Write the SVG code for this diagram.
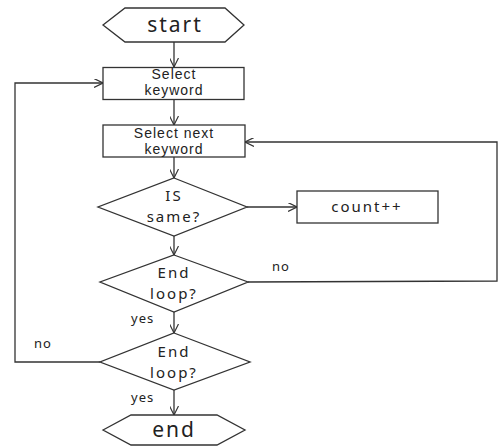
<svg xmlns="http://www.w3.org/2000/svg" width="500" height="446" viewBox="0 0 500 446">
<style>
.s{fill:#fff;stroke:#333;stroke-width:1.3}
.c{fill:none;stroke:#333;stroke-width:1.3}
text{font-family:"Noto Sans","Open Sans",sans-serif;fill:#222;text-anchor:middle}
.t{font-family:"Liberation Sans","Noto Sans",sans-serif;font-size:14px;letter-spacing:1px}
.d{font-size:15px;letter-spacing:2px}
.b{font-size:21px;letter-spacing:2px}
.k{font-size:15px;letter-spacing:2px}
.l{font-size:13px;letter-spacing:1px;text-anchor:start}
</style>
<defs>
<marker id="a" viewBox="0 0 10 10" refX="10" refY="5" markerWidth="9" markerHeight="9" markerUnits="userSpaceOnUse" orient="auto">
<path d="M0,0 L10,5 L0,10" fill="none" stroke="#333" stroke-width="1.3"/>
</marker>
</defs>
<rect width="500" height="446" fill="#fff"/>
<g id="connectors">
<line class="c" x1="174" y1="42" x2="174" y2="67" marker-end="url(#a)"/>
<line class="c" x1="174" y1="99" x2="174" y2="125" marker-end="url(#a)"/>
<line class="c" x1="174" y1="157" x2="174" y2="178" marker-end="url(#a)"/>
<line class="c" x1="174" y1="236" x2="174" y2="255" marker-end="url(#a)"/>
<line class="c" x1="174" y1="312" x2="174" y2="333" marker-end="url(#a)"/>
<line class="c" x1="174" y1="390" x2="174" y2="415" marker-end="url(#a)"/>
<line class="c" x1="247" y1="207" x2="297" y2="207" marker-end="url(#a)"/>
<polyline class="c" points="248,282 497,281 497,142 245,142" marker-end="url(#a)"/>
<polyline class="c" points="100,362 15,362 15,83 103,83" marker-end="url(#a)"/>
<text class="l" x="272" y="271">no</text>
<text class="l" x="34" y="348">no</text>
<text class="l" x="131" y="323">yes</text>
<text class="l" x="131" y="402">yes</text>
</g>
<g id="start">
<polygon class="s" points="103,25 125,8 225,8 244,25 225,42 125,42"/>
<text class="b" x="175" y="32">start</text>
</g>
<g id="select-keyword">
<rect class="s" x="103" y="67.5" width="141" height="32"/>
<text class="t" x="174" y="79">Select</text>
<text class="t" x="174" y="95">keyword</text>
</g>
<g id="select-next-keyword">
<rect class="s" x="103" y="125" width="142" height="32"/>
<text class="t" x="174" y="138">Select next</text>
<text class="t" x="174" y="154">keyword</text>
</g>
<g id="is-same">
<polygon class="s" points="174,178 247,207 174,236 98,207"/>
<text class="d" x="174" y="201">IS</text>
<text class="d" x="174" y="222">same?</text>
</g>
<g id="count">
<rect class="s" x="297" y="191" width="141" height="32"/>
<text class="k" x="367" y="212">count++</text>
</g>
<g id="end-loop-1">
<polygon class="s" points="174,255 248,282 174,312 100,282"/>
<text class="d" x="174" y="278">End</text>
<text class="d" x="174" y="299">loop?</text>
</g>
<g id="end-loop-2">
<polygon class="s" points="174,333 250,362 174,390 100,362"/>
<text class="d" x="174" y="357">End</text>
<text class="d" x="174" y="378">loop?</text>
</g>
<g id="end">
<polygon class="s" points="103,430 131,415 217,415 245,430 217,445 131,445"/>
<text class="b" x="174" y="437">end</text>
</g>
</svg>
